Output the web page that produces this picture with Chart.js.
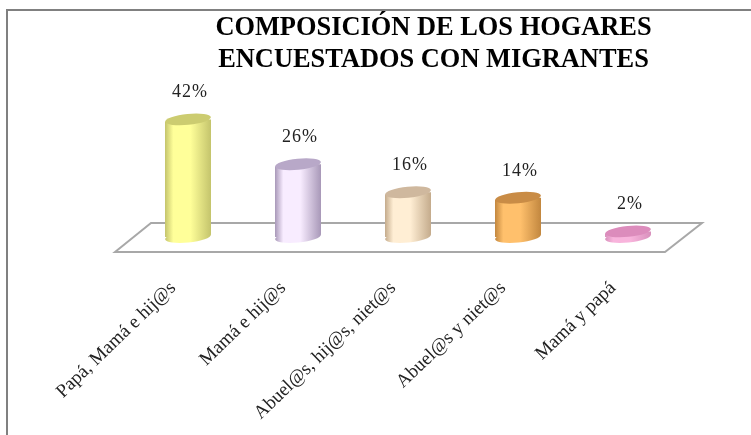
<!DOCTYPE html>
<html><head><meta charset="utf-8">
<style>html,body{margin:0;padding:0;background:#fff}#w{position:relative;width:751px;height:435px}</style>
<script src="https://cdn.jsdelivr.net/npm/chart.js@4"></script>
</head><body><div id="w"><canvas id="c" width="751" height="435"></canvas></div>
<script>
const categories = ['Papá, Mamá e hij@s','Mamá e hij@s','Abuel@s, hij@s, niet@s','Abuel@s y niet@s','Mamá y papá'];
const values = [42,26,16,14,2];
const titleLines = ['COMPOSICIÓN DE LOS HOGARES','ENCUESTADOS CON MIGRANTES'];
const sideEdge = ['#c4c46c','#a898b8','#c4ab8c','#c2873f','#d890bc'];
const sideMid  = ['#ffff99','#f8ecff','#ffeed4','#ffc06c','#f8b4dc'];
const topFill  = ['#cccc70','#b8a8c8','#cfb89e','#c98c46','#dc8cbc'];
const SERIF = '"Liberation Serif", serif';
const TILT = -0.1, RY = 5.5;

function sideGrad(c, x, w, i){
  const g = c.createLinearGradient(x-w/2,0,x+w/2,0);
  g.addColorStop(0, sideEdge[i]); g.addColorStop(.18, sideMid[i]);
  g.addColorStop(.55, sideMid[i]); g.addColorStop(1, sideEdge[i]);
  return g;
}
function ellipse(c,x,y,w,fill){
  c.beginPath(); c.ellipse(x,y,w/2,RY,TILT,0,Math.PI*2); c.fillStyle=fill; c.fill();
}
const scene = {
  id:'scene',
  beforeDraw(ch){
    const c=ch.ctx, a=ch.chartArea, y0=ch.scales.y.getPixelForValue(0);
    c.save();
    c.strokeStyle='#808080'; c.lineWidth=2;
    c.beginPath(); c.moveTo(7,ch.height); c.lineTo(7,10); c.lineTo(ch.width,10); c.stroke();
    c.strokeStyle='#a8a8a8'; c.lineWidth=2; c.fillStyle='#fff';
    c.beginPath();
    c.moveTo(a.left-18,y0+15); c.lineTo(a.left+18,y0-14);
    c.lineTo(a.right+19,y0-14); c.lineTo(a.right-18,y0+15); c.closePath();
    c.fill(); c.stroke(); c.restore();
  },
  beforeDatasetsDraw(ch){
    const c=ch.ctx, bars=ch.getDatasetMeta(0).data;
    bars.forEach((b,i)=>ellipse(c,b.x,b.base,b.width,sideGrad(c,b.x,b.width,i)));
    // trim the square bar ends so they follow the tilt of the end ellipses
    c.save(); c.beginPath();
    bars.forEach(b=>{
      const h=b.width/2, d=h*Math.tan(-TILT);
      c.moveTo(b.x-h,b.y+d); c.lineTo(b.x+h,b.y-d);
      c.lineTo(b.x+h,b.base-d); c.lineTo(b.x-h,b.base+d); c.closePath();
    });
    c.clip();
  },
  afterDatasetsDraw(ch){
    const c=ch.ctx;
    c.restore();
    ch.getDatasetMeta(0).data.forEach((b,i)=>{
      ellipse(c,b.x,b.y,b.width,topFill[i]);
      c.save(); c.fillStyle='#222'; c.font='18px '+SERIF; c.textAlign='center'; c.textBaseline='middle';
      c.letterSpacing='1px';
      c.fillText(values[i]+'%',b.x+2,b.y-27); c.restore();
    });
  }
};
new Chart(document.getElementById('c'),{
  type:'bar',
  data:{labels:categories,datasets:[{data:values,
    backgroundColor(ctx){
      const ch=ctx.chart; if(!ch.chartArea||ctx.dataIndex===undefined) return '#ccc';
      return sideGrad(ch.ctx,ch.scales.x.getPixelForValue(ctx.dataIndex),46,ctx.dataIndex);
    },
    borderWidth:0,categoryPercentage:1,barPercentage:46/110}]},
  options:{
    responsive:false,animation:false,
    layout:{padding:{left:133,right:17,top:12,bottom:0}},
    plugins:{legend:{display:false},tooltip:{enabled:false},
      title:{display:true,text:titleLines,color:'#000',
        font:{family:SERIF,size:26.4,weight:'bold',lineHeight:32/26.4},padding:{top:0,bottom:7}}},
    scales:{
      x:{grid:{display:false},border:{display:false},
        afterFit(s){s.height=198;s.paddingLeft=0;s.paddingRight=0;},
        ticks:{autoSkip:false,minRotation:44,maxRotation:44,padding:32,labelOffset:-15,color:'#222',
          font:{family:SERIF,size:19}}},
      y:{position:'right',min:0,max:55,grid:{display:false},border:{display:false},
        ticks:{display:false},afterFit(s){s.width=51;}}
    }
  },
  plugins:[scene]
});
</script></body></html>
